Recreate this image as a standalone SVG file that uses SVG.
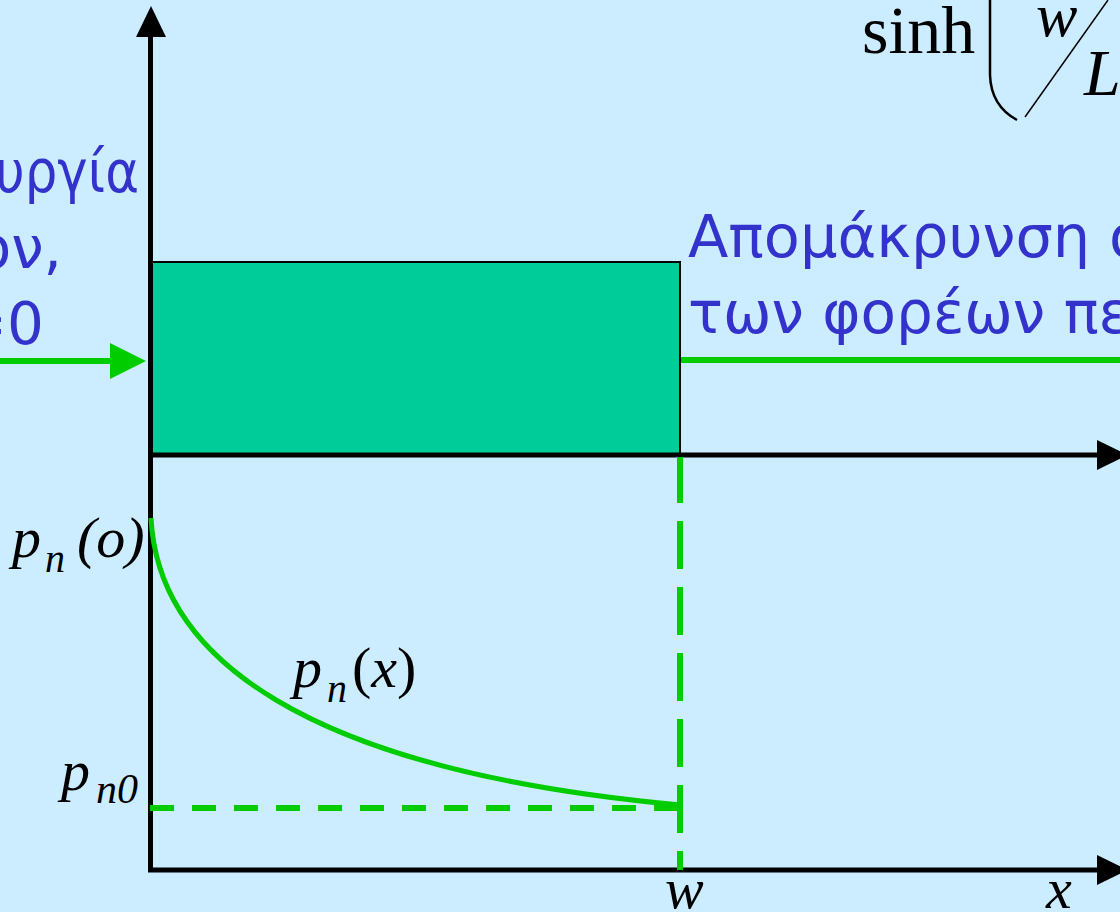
<svg xmlns="http://www.w3.org/2000/svg" width="1120" height="912" viewBox="0 0 1120 912">
<style>
.blue{font-family:"DejaVu Sans",Verdana,sans-serif;font-size:58px;fill:#3333CC}
.math{font-family:"Liberation Serif","Times New Roman",serif;fill:#000}
.it{font-style:italic}
.axis{stroke:#000;stroke-width:5;fill:none}
.grn{stroke:#00CC00;stroke-width:6;fill:none}
</style>
<rect x="0" y="0" width="1120" height="912" fill="#CCECFF"/>
<g id="region">
<rect x="150" y="262" width="530" height="193" fill="#00CC99" stroke="#000" stroke-width="2"/>
</g>
<g id="connectors">
<line class="axis" x1="150.5" y1="872" x2="150.5" y2="36"/>
<polygon points="151,6 136,37 166,37" fill="#000"/>
<line class="axis" x1="148" y1="870" x2="1098" y2="870"/>
<polygon points="1128,870 1097,855 1097,885" fill="#000"/>
<line class="axis" x1="148" y1="455" x2="1098" y2="455"/>
<polygon points="1128,455 1097,440 1097,470" fill="#000"/>
<line class="grn" x1="0" y1="361" x2="112" y2="361"/>
<polygon points="146,361 110,343 110,379" fill="#00CC00"/>
<line class="grn" x1="681" y1="360" x2="1120" y2="360"/>
<line class="grn" x1="680" y1="457" x2="680" y2="870" stroke-dasharray="48 18" stroke-dashoffset="2"/>
<line class="grn" x1="150" y1="808" x2="680" y2="808" stroke-width="5" stroke-dasharray="24 18"/>
<path d="M151,518 C158,655 300,770 680,805" fill="none" stroke="#00CC00" stroke-width="5"/>
</g>
<g id="formula">
<text class="math" x="862" y="53" font-size="68">sinh</text>
<path d="M990,0 L990,75 Q991,106 1017,120" fill="none" stroke="#000" stroke-width="2.5"/>
<text class="math it" x="1036" y="36" font-size="62">w</text>
<line x1="1025" y1="117" x2="1108" y2="0" stroke="#000" stroke-width="1.5"/>
<text class="math it" x="1084" y="95" font-size="66">L</text>
</g>
<g id="left-text">
<text class="blue" x="-5" y="192" textLength="144" lengthAdjust="spacingAndGlyphs">υργία</text>
<text class="blue" x="62" y="268" text-anchor="end">ον,</text>
<text class="blue" x="44" y="344" text-anchor="end">=0</text>
</g>
<g id="right-text">
<text class="blue" x="688" y="257" textLength="457" lengthAdjust="spacingAndGlyphs">Απομάκρυνση ο</text>
<text class="blue" x="688" y="333">των φορέων πε</text>
</g>
<g id="labels">
<text class="math it" x="12" y="557" font-size="58">p</text>
<text class="math it" x="45" y="572" font-size="40">n</text>
<text class="math it" x="77" y="557" font-size="58">(o)</text>
<text class="math it" x="293" y="687" font-size="58">p</text>
<text class="math it" x="327" y="702" font-size="40">n</text>
<text class="math" x="352" y="687" font-size="58">(<tspan font-style="italic">x</tspan>)</text>
<text class="math it" x="61" y="790" font-size="58">p</text>
<text class="math it" x="96" y="803" font-size="42">n0</text>
<text class="math it" x="665" y="908" font-size="58">w</text>
<text class="math it" x="1046" y="908" font-size="58">x</text>
</g>
</svg>
